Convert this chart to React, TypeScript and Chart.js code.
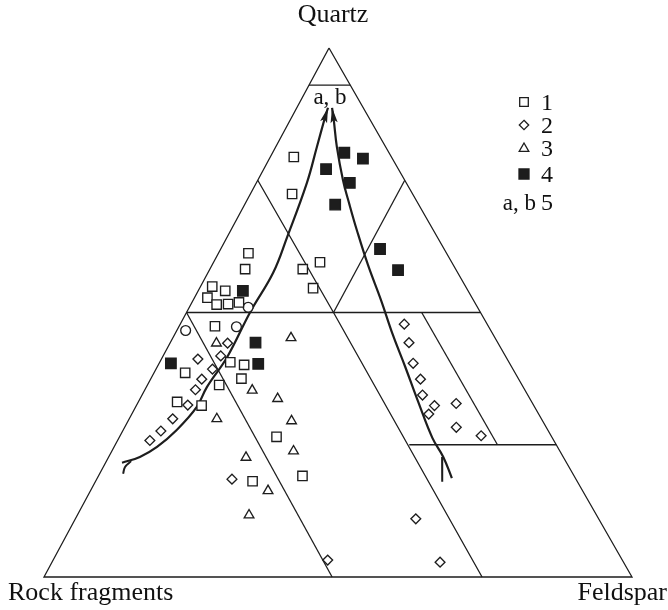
import React, { useEffect, useRef } from 'react';
import { Chart, registerables } from 'chart.js';

Chart.register(...registerables);

// ---------- Ternary data: each entry is [Quartz %, Feldspar %]; Rock fragments = 100 - Q - F ----------
const group1OpenSquares: number[][] = [
  [79.4, 4.0], [72.4, 7.1], [59.5, 18.1], [58.2, 15.8], [54.6, 19.3], [61.2, 5.1], [58.2, 6.0],
  [54.9, 2.0], [54.1, 4.6], [52.8, 2.2], [51.5, 4.4], [51.6, 6.3], [51.9, 8.0], [47.4, 6.1],
  [40.6, 12.0], [40.1, 14.6], [38.6, 5.3], [37.5, 15.4], [36.3, 12.2], [33.1, 6.6], [32.4, 11.1],
  [26.5, 26.7], [19.1, 34.7], [18.1, 26.7],
];
const group2Diamonds: number[][] = [
  [44.2, 9.8], [41.2, 6.2], [41.8, 9.8], [39.3, 9.6], [37.4, 8.7], [35.4, 8.6], [32.5, 8.7],
  [29.9, 7.4], [27.6, 6.5], [25.8, 5.5], [18.5, 23.0], [47.8, 38.1], [44.3, 40.6], [40.4, 43.2],
  [37.4, 45.9], [34.4, 47.7], [32.4, 50.7], [30.8, 50.5], [32.8, 54.2], [28.3, 56.4], [26.7, 61.4],
  [11.0, 57.9], [2.8, 66.0], [3.2, 46.7],
];
const group3Triangles: number[][] = [
  [45.2, 20.1], [44.2, 7.9], [35.3, 18.3], [33.7, 23.4], [29.9, 14.9], [29.5, 27.8], [23.8, 30.9],
  [22.6, 23.4], [16.3, 30.2], [11.7, 29.2],
];
const group4FilledSquares: number[][] = [
  [80.2, 12.2], [79.1, 15.9], [77.1, 10.6], [74.5, 15.9], [70.4, 15.4], [62.0, 27.1], [58.0, 32.1],
  [54.1, 7.6], [44.3, 14.5], [40.3, 16.9], [40.4, 2.0],
];
const openCircles: number[][] = [[51.0, 10.0], [47.3, 9.8], [46.6, 1.5]];

// Evolution trends (a, b), from source to the arrow tip
const trendA: number[][] = [
  [21.6, 2.8], [22.7, 5.3], [24.6, 7.3], [27.8, 9.1], [32.1, 10.4], [35.9, 10.3], [41.6, 11.0],
  [50.1, 10.8], [57.5, 11.1], [64.3, 10.2], [74.5, 8.6], [81.3, 7.0], [86.8, 5.7], [88.7, 5.3],
];
const trendATail: number[][] = [[21.9, 4.2], [20.8, 3.7], [19.5, 4.0]];
const trendB: number[][] = [
  [18.7, 60.3], [22.7, 56.9], [26.3, 53.3], [33.1, 47.6], [39.7, 42.2], [45.7, 37.2], [52.4, 31.9],
  [59.0, 26.5], [65.6, 21.4], [70.3, 17.9], [75.0, 14.5], [81.3, 10.4], [86.4, 7.4], [88.7, 6.0],
];
const trendBTail: number[][] = [[22.7, 56.7], [18.0, 59.0]];

// Field boundaries of the classification triangle
const frame: number[][] = [[100, 0], [0, 0], [0, 100], [100, 0]];
const lineQ93: number[][] = [[93, 0], [93, 7]];
const lineQ50: number[][] = [[50, 0], [50, 50]];
const lineR25: number[][] = [[75, 0], [50, 25], [0, 74.5]];
const lineF25: number[][] = [[75, 25], [50, 25]];
const lineR50: number[][] = [[50, 0], [0, 49]];
const lineR10: number[][] = [[50, 40], [25, 65]];
const lineQ25: number[][] = [[25, 50], [25, 75]];

const vertexLabels = ['Quartz', 'Rock fragments', 'Feldspar'];
const legendLabels = ['1', '2', '3', '4', '5'];
const trendLabel = 'a, b';

// ---------- geometry / style ----------
const APEX_OFFSET = 0.4847;
const X_MIN = -7.483, X_MAX = 106.122;
const Y_MIN = -6.238, Y_MAX = 109.074;
const INK = '#1d1d1d';
const SERIF = '"Liberation Serif", "Times New Roman", Times, serif';

const toXY = (p: number[]) => ({ x: p[1] + p[0] * APEX_OFFSET, y: p[0] });

function drawMarker(ctx: CanvasRenderingContext2D, kind: string, x: number, y: number) {
  ctx.save();
  ctx.lineWidth = 1.3;
  ctx.strokeStyle = INK;
  ctx.fillStyle = '#fff';
  ctx.beginPath();
  if (kind === 'sq') {
    ctx.rect(x - 4.3, y - 4.3, 8.6, 8.6);
  } else if (kind === 'fsq') {
    ctx.rect(x - 5, y - 5, 10, 10);
    ctx.fillStyle = INK;
  } else if (kind === 'dia') {
    ctx.moveTo(x, y - 4.7); ctx.lineTo(x + 4.7, y); ctx.lineTo(x, y + 4.7); ctx.lineTo(x - 4.7, y); ctx.closePath();
  } else if (kind === 'tri') {
    ctx.moveTo(x, y - 5); ctx.lineTo(x + 4.8, y + 3.3); ctx.lineTo(x - 4.8, y + 3.3); ctx.closePath();
  }
  ctx.fill();
  ctx.stroke();
  ctx.restore();
}

const overlayPlugin = {
  id: 'overlay',
  afterDatasetsDraw(chart: any) {
    const ctx: CanvasRenderingContext2D = chart.ctx;
    // arrowheads at the end of each trend
    chart.data.datasets.forEach((ds: any, i: number) => {
      if (!ds.arrow) return;
      const pts = chart.getDatasetMeta(i).data;
      const tip = pts[pts.length - 1];
      const prev = pts[pts.length - 2];
      const ang = Math.atan2(tip.y - prev.y, tip.x - prev.x);
      const L = 15, W = 3.6, N = 3;
      const ux = Math.cos(ang), uy = Math.sin(ang);
      const nx = -uy, ny = ux;
      ctx.save();
      ctx.fillStyle = INK;
      ctx.beginPath();
      ctx.moveTo(tip.x, tip.y);
      ctx.lineTo(tip.x - ux * L + nx * W, tip.y - uy * L + ny * W);
      ctx.lineTo(tip.x - ux * (L - N), tip.y - uy * (L - N));
      ctx.lineTo(tip.x - ux * L - nx * W, tip.y - uy * L - ny * W);
      ctx.closePath();
      ctx.fill();
      ctx.restore();
    });

    ctx.save();
    ctx.fillStyle = '#111';
    ctx.textBaseline = 'alphabetic';
    // vertex labels
    ctx.font = `26px ${SERIF}`;
    ctx.textAlign = 'center';
    ctx.fillText(vertexLabels[0], 333, 22);
    ctx.textAlign = 'left';
    ctx.fillText(vertexLabels[1], 8, 600);
    ctx.textAlign = 'right';
    ctx.fillText(vertexLabels[2], 667, 600);

    // trend label
    ctx.font = `23px ${SERIF}`;
    ctx.textAlign = 'center';
    ctx.fillText(trendLabel, 330, 104);

    // legend
    const kinds = ['sq', 'dia', 'tri', 'fsq'];
    const ys = [102, 125, 148, 174];
    ctx.font = `24px ${SERIF}`;
    ctx.textAlign = 'left';
    kinds.forEach((k, i) => {
      drawMarker(ctx, k, 524, ys[i]);
      ctx.fillStyle = '#111';
      ctx.fillText(legendLabels[i], 541, ys[i] + 8);
    });
    ctx.font = `23px ${SERIF}`;
    ctx.textAlign = 'right';
    ctx.fillText(trendLabel, 536, 210);
    ctx.font = `24px ${SERIF}`;
    ctx.textAlign = 'left';
    ctx.fillText(legendLabels[4], 541, 210);
    ctx.restore();
  },
};

export default function App() {
  const ref = useRef<HTMLCanvasElement | null>(null);

  useEffect(() => {
    if (!ref.current) return;
    const lineDs = (pts: number[][], width = 1.2, tension = 0, extra: any = {}) => ({
      data: pts.map(toXY),
      showLine: true,
      borderColor: INK,
      backgroundColor: INK,
      borderWidth: width,
      pointRadius: 0,
      pointHoverRadius: 0,
      tension,
      fill: false,
      clip: false,
      order: 2,
      ...extra,
    });
    const markerDs = (pts: number[][], style: string, radius: number, fill: string) => ({
      data: pts.map(toXY),
      showLine: false,
      pointStyle: style,
      pointRadius: radius,
      pointHoverRadius: radius,
      borderColor: INK,
      backgroundColor: fill,
      borderWidth: 1.35,
      clip: false,
      order: 1,
    });

    const chart = new Chart(ref.current, {
      type: 'scatter',
      data: {
        datasets: [
          markerDs(group1OpenSquares, 'rect', 6.6, '#fff'),
          markerDs(group2Diamonds, 'rectRot', 4.9, '#fff'),
          markerDs(group3Triangles, 'triangle', 5.6, '#fff'),
          markerDs(group4FilledSquares, 'rect', 7.4, INK),
          markerDs(openCircles, 'circle', 4.9, '#fff'),
          lineDs(frame, 1.3),
          lineDs(lineQ93, 1.3),
          lineDs(lineQ50, 1.3),
          lineDs(lineR25, 1.3),
          lineDs(lineF25, 1.3),
          lineDs(lineR50, 1.3),
          lineDs(lineR10, 1.3),
          lineDs(lineQ25, 1.3),
          lineDs(trendA, 2.2, 0.4, { arrow: true }),
          lineDs(trendATail, 2, 0.4),
          lineDs(trendB, 2.2, 0.4, { arrow: true }),
          lineDs(trendBTail, 2),
        ] as any,
      },
      options: {
        animation: false,
        responsive: false,
        devicePixelRatio: 1,
        events: [],
        layout: { padding: 0, autoPadding: false },
        scales: {
          x: { type: 'linear', min: X_MIN, max: X_MAX, display: false },
          y: { type: 'linear', min: Y_MIN, max: Y_MAX, display: false },
        },
        plugins: { legend: { display: false }, tooltip: { enabled: false } },
      },
      plugins: [overlayPlugin],
    });
    return () => chart.destroy();
  }, []);

  return (
    <div style={{ position: 'absolute', left: 0, top: 0, width: 668, height: 610, background: '#fff' }}>
      <canvas ref={ref} width={668} height={610} style={{ display: 'block' }} />
    </div>
  );
}
